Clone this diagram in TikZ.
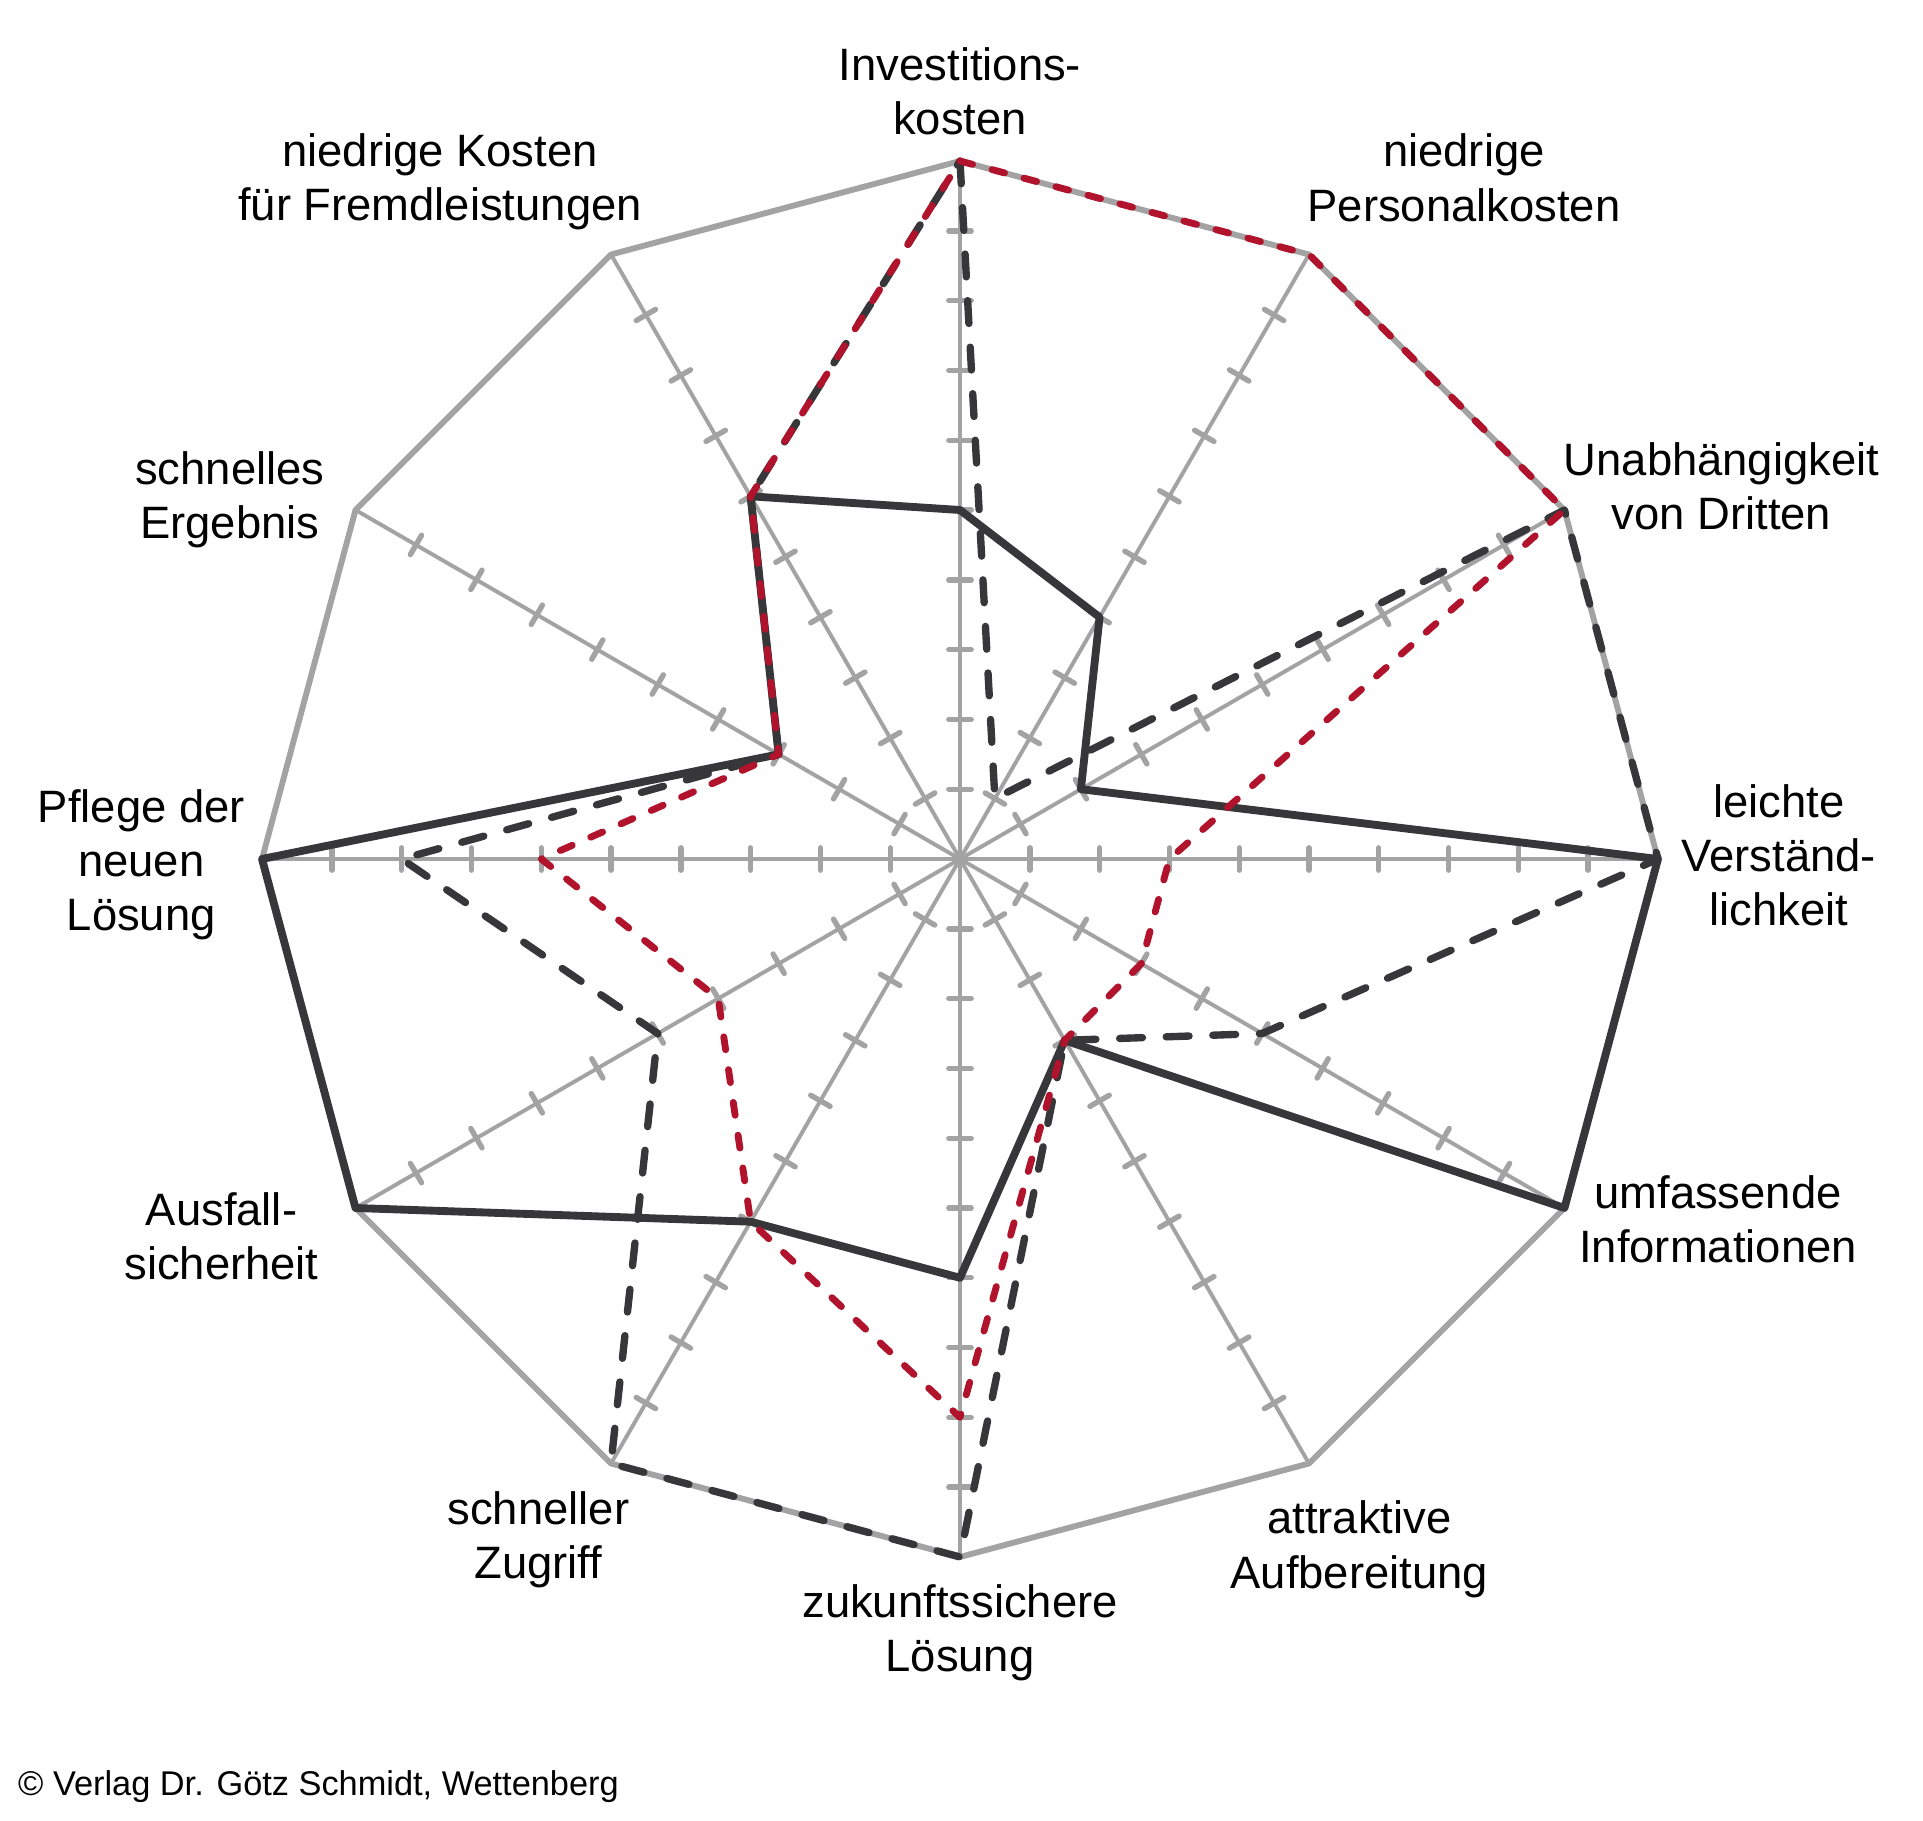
\documentclass[tikz,border=0pt]{standalone}
\usepackage{fontspec}
\setmainfont{Liberation Sans}
\usepackage{tikz}

\definecolor{gridgray}{HTML}{A3A3A3}
\definecolor{darkline}{HTML}{37373A}
\definecolor{redline}{HTML}{B0132B}

\begin{document}
\begin{tikzpicture}[
    lbl/.style={align=center, inner sep=0pt, font=\fontsize{18.5}{22.1}\selectfont},
    axisline/.style={gridgray, line width=1.6pt},
    tickmark/.style={gridgray, line width=2.2pt, line cap=round},
    outerline/.style={gridgray, line width=2.4pt, line join=round},
    solidseries/.style={darkline, line width=3.2pt, line join=round},
    dashseries/.style={darkline, line width=3pt, line join=round, line cap=round, dash pattern=on 9.3pt off 9.7pt},
    redseries/.style={redline, line width=2.8pt, line join=round, line cap=round, dash pattern=on 5.3pt off 8.2pt}
]
    \useasboundingbox (-13.754,-13.782) rectangle (13.797,12.307);

    % axes and ticks
    \foreach \a in {0,30,...,330} {
        \draw[axisline] (0,0) -- (\a:10);
        \foreach \r in {1,...,9}
            \draw[tickmark, rotate=\a] (\r,-0.16) -- (\r,0.16);
    }
    \draw[outerline] (0:10) \foreach \a in {30,60,...,330} { -- (\a:10) } -- cycle;

    % series
    \draw[solidseries] (90:5) -- (60:4) -- (30:2) -- (0:10) -- (-30:10) -- (-60:3)
        -- (-90:6) -- (-120:6) -- (-150:10) -- (180:10) -- (150:3) -- (120:6) -- cycle;
    \draw[dashseries] (90:10) -- (60:1) -- (30:10) -- (0:10) -- (-30:5) -- (-60:3)
        -- (-90:10) -- (-120:10) -- (-150:5) -- (180:8) -- (150:3) -- (120:6) -- cycle;
    \draw[redseries] (90:10) -- (60:10) -- (30:10) -- (0:3) -- (-30:3) -- (-60:3)
        -- (-90:8) -- (-120:6) -- (-150:4) -- (180:6) -- (150:3) -- (120:6) -- cycle;

    % labels
    \node[lbl] (invest) at (0,11.00) {Investitions-\\kosten};
    \node[lbl] (personal) at (7.22,9.76) {niedrige\\Personalkosten};
    \node[lbl] (dritte) at (10.91,5.34) {Unabhängigkeit\\von Dritten};
    \node[lbl] (verstand) at (11.73,0.05) {leichte\\Verständ-\\lichkeit};
    \node[lbl] (info) at (10.86,-5.16) {umfassende\\Informationen};
    \node[lbl] (aufb) at (5.72,-9.89) {attraktive\\Aufbereitung};
    \node[lbl] (zukunft) at (0,-11.09) {zukunftssichere\\Lösung};
    \node[lbl] (zugriff) at (-6.04,-9.75) {schneller\\Zugriff};
    \node[lbl] (ausfall) at (-10.58,-5.40) {Ausfall-\\sicherheit};
    \node[lbl] (pflege) at (-11.73,-0.08) {Pflege der\\neuen\\Lösung};
    \node[lbl] (ergebnis) at (-10.46,5.15) {schnelles\\Ergebnis};
    \node[lbl] (fremd) at (-7.45,9.70) {niedrige Kosten\\für Fremdleistungen};

    \node[anchor=base west, inner sep=0pt, font=\fontsize{14}{17}\selectfont] (verlag) at (-13.50,-13.42) {© Verlag Dr. Götz Schmidt, Wettenberg};
\end{tikzpicture}
\end{document}
